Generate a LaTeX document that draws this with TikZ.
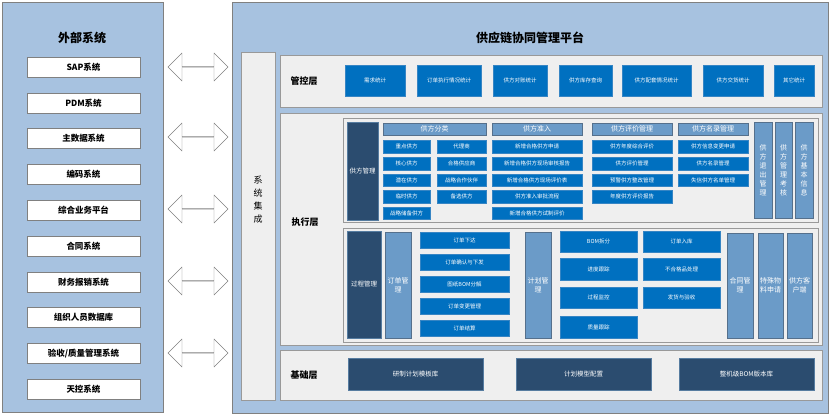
\documentclass[tikz,border=0pt]{standalone}
\usepackage{fontspec}
\setmainfont{Noto Sans CJK SC}
\usetikzlibrary{shapes.arrows}
\definecolor{bbox}{HTML}{0070C0}
\definecolor{dbox}{HTML}{2B4C6F}
\definecolor{lbox}{HTML}{6B9BC8}
\definecolor{outer}{HTML}{A7C2E0}
\definecolor{panel}{HTML}{EFEFEF}
\tikzset{
 base/.style={inner sep=0pt,align=center,text=white,font=\fontsize{5.5}{6.5}\selectfont},
 blue/.style={base,fill=bbox,draw=bbox!50!lbox},
 dark/.style={base,fill=dbox,draw=lbox!80!black,font=\fontsize{6.5}{7.5}\selectfont},
 light/.style={base,fill=lbox,draw=dbox!80,font=\fontsize{7}{9}\selectfont},
 ext/.style={base,fill=white,draw=gray,text=black,font=\fontsize{8.5}{9}\selectfont\bfseries},
 pan/.style={base,fill=panel,draw=gray!80,line width=1pt},
 outerp/.style={base,fill=outer,draw=gray,line width=1pt},
 arr/.style={double arrow,draw=gray,fill=white,minimum height=60pt,minimum width=28pt,double arrow head extend=6pt,inner sep=0pt},
}
\newcommand\bx[7]{\node[#6,minimum width={((#4)-(#2))*1pt},minimum height={((#5)-(#3))*1pt}] (#1) at ({((#2)+(#4))/2},{((#3)+(#5))/2}) {#7};}
\begin{document}
\begin{tikzpicture}[x=1pt,y=-1pt]
\useasboundingbox (0,0) rectangle (831,418);
\bx{L}{2}{2}{163}{412}{outerp}{}
\node[font=\fontsize{12}{14}\selectfont\bfseries] (lt) at (82,38) {外部系统};
\foreach \t [count=\i] in {SAP系统,PDM系统,主数据系统,编码系统,综合业务平台,合同系统,财务报销系统,组织人员数据库,验收/质量管理系统,天控系统}{
 \pgfmathsetmacro\yc{67+(\i-1)*35.8}
 \bx{e\i}{27}{\yc-10}{140}{\yc+10}{ext}{\t}
}
\foreach \y [count=\i] in {67,137,209,281,353}{ \node[arr] (a\i) at (198,\y) {}; }
\bx{R}{232}{2}{828}{413}{outerp}{}
\node[font=\fontsize{12}{14}\selectfont\bfseries] (rt) at (530,38) {供应链协同管理平台};
\bx{sys}{241}{52}{275}{400}{pan}{}
\node[font=\fontsize{9}{13}\selectfont,align=center] (syst) at (258,200) {系\\统\\集\\成};
% control layer
\bx{P1}{280}{55}{822}{107}{pan}{}
\node[font=\fontsize{9}{10}\selectfont\bfseries] (l1) at (304,81) {管控层};
\bx{c1}{345}{65}{405}{96}{blue}{需求统计}
\bx{c2}{417}{65}{481}{96}{blue}{订单执行情况统计}
\bx{c3}{493}{65}{547}{96}{blue}{供方对账统计}
\bx{c4}{559}{65}{612}{96}{blue}{供方库存查询}
\bx{c5}{622}{65}{691}{96}{blue}{供方配套情况统计}
\bx{c6}{703}{65}{763}{96}{blue}{供方交货统计}
\bx{c7}{774}{65}{814}{96}{blue}{其它统计}
% exec layer
\bx{P2}{280}{113}{822}{345}{pan}{}
\node[font=\fontsize{9}{10}\selectfont\bfseries] (l2) at (305,222) {执行层};
\bx{P2a}{343}{118}{818}{222}{pan}{}
\bx{P2b}{343}{228}{818}{342}{pan}{}
\bx{gm}{347}{122}{378}{220}{dark}{供方管理}
\bx{h1}{383}{123}{486}{135}{light}{供方分类}
\bx{h2}{492}{123}{582}{135}{light}{供方准入}
\bx{h3}{592}{123}{672}{135}{light}{供方评价管理}
\bx{h4}{678}{123}{748}{135}{light}{供方名录管理}
\bx{f1}{383}{140}{430}{153}{blue}{重点供方}
\bx{f2}{383}{157}{430}{170}{blue}{核心供方}
\bx{f3}{383}{174}{430}{186}{blue}{潜在供方}
\bx{f4}{383}{190}{430}{203}{blue}{临时供方}
\bx{f5}{383}{207}{430}{219}{blue}{战略储备供方}
\bx{g1}{437}{140}{486}{153}{blue}{代理商}
\bx{g2}{437}{157}{486}{170}{blue}{合格供应商}
\bx{g3}{437}{174}{486}{186}{blue}{战略合作伙伴}
\bx{g4}{437}{190}{486}{203}{blue}{备选供方}
\bx{k1}{492}{140}{582}{153}{blue}{新增合格供方申请}
\bx{k2}{492}{157}{582}{170}{blue}{新增合格供方现场审核报告}
\bx{k3}{492}{174}{582}{186}{blue}{新增合格供方现场评价表}
\bx{k4}{492}{190}{582}{203}{blue}{供方准入审批流程}
\bx{k5}{492}{207}{582}{219}{blue}{新增合格供方试制评价}
\bx{m1}{592}{140}{672}{153}{blue}{供方年度综合评价}
\bx{m2}{592}{157}{672}{170}{blue}{供方评价管理}
\bx{m3}{592}{174}{672}{186}{blue}{预警供方整改管理}
\bx{m4}{592}{190}{672}{203}{blue}{年度供方评价报告}
\bx{n1}{678}{140}{748}{153}{blue}{供方信息变更申请}
\bx{n2}{678}{157}{748}{170}{blue}{供方名录管理}
\bx{n3}{678}{174}{748}{186}{blue}{失信供方名单管理}
\bx{v1}{754}{122}{772}{218}{light}{供\\方\\退\\出\\管\\理}
\bx{v2}{775}{122}{792}{218}{light}{供\\方\\管\\理\\考\\核}
\bx{v3}{795}{122}{813}{218}{light}{供\\方\\基\\本\\信\\息}
\bx{pm}{347}{231}{381}{338}{dark}{过程管理}
\bx{om}{385}{232}{411}{338}{light}{订单管\\理}
\bx{o1}{420}{232}{509}{248}{blue}{订单下达}
\bx{o2}{420}{254}{509}{270}{blue}{订单确认与下发}
\bx{o3}{420}{276}{509}{292}{blue}{图纸BOM分解}
\bx{o4}{420}{298}{509}{314}{blue}{订单变更管理}
\bx{o5}{420}{320}{509}{336}{blue}{订单结算}
\bx{jm}{525}{232}{551}{338}{light}{计划管\\理}
\bx{p1}{560}{231}{637}{252}{blue}{BOM拆分}
\bx{p2}{560}{258}{637}{280}{blue}{进度跟踪}
\bx{p3}{560}{287}{637}{308}{blue}{过程监控}
\bx{p4}{560}{316}{637}{338}{blue}{质量跟踪}
\bx{q1}{643}{231}{720}{252}{blue}{订单入库}
\bx{q2}{643}{258}{720}{280}{blue}{不合格品处理}
\bx{q3}{643}{287}{720}{308}{blue}{发货与验收}
\bx{w1}{727}{233}{753}{338}{light}{合同管\\理}
\bx{w2}{758}{233}{783}{338}{light}{特殊物\\料申请}
\bx{w3}{787}{233}{812}{338}{light}{供方客\\户端}
% base layer
\bx{P3}{280}{350}{822}{400}{pan}{}
\node[font=\fontsize{9}{10}\selectfont\bfseries] (l3) at (304,375) {基础层};
\bx{b1}{348}{358}{483}{390}{dark}{研制计划模板库}
\bx{b2}{516}{358}{651}{390}{dark}{计划模型配置}
\bx{b3}{679}{358}{814}{390}{dark}{整机级BOM版本库}
\end{tikzpicture}
\end{document}
